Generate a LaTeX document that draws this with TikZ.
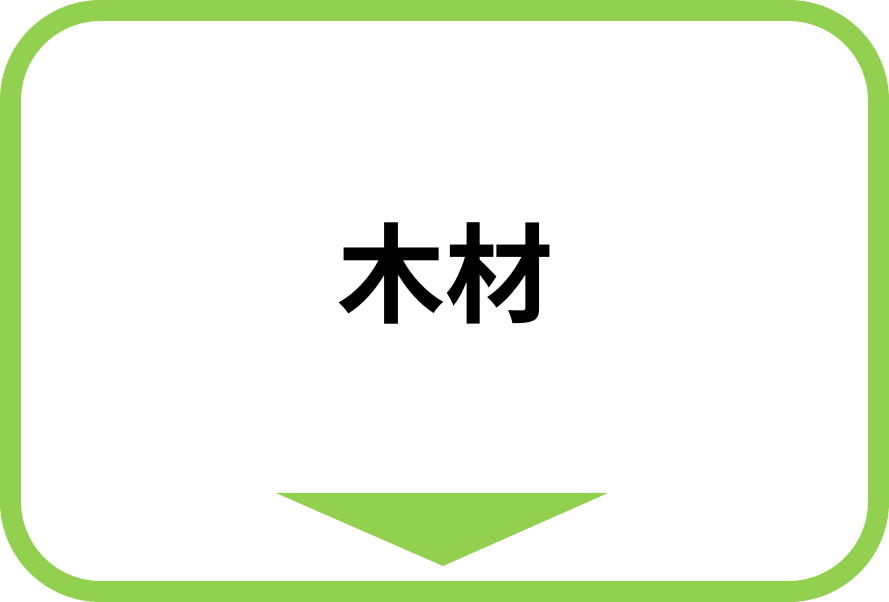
\documentclass[tikz,border=0pt]{standalone}
\usepackage{fontspec}
\newfontfamily\jpfont{Noto Sans CJK JP}[BoldFont={* Bold}]
\usetikzlibrary{positioning}
\definecolor{leafgreen}{HTML}{92D050}

\begin{document}
\begin{tikzpicture}[
            x=1pt, y=1pt,
            panel/.style={ draw=leafgreen, line width=21pt, rounded corners=90pt, minimum width=868pt, minimum height=581pt, inner sep=0pt },
            word/.style={ font=\jpfont\bfseries\fontsize{108}{110}\selectfont, inner sep=0pt }
        ]
        \useasboundingbox (0,0) rectangle (889,602);

        \node[panel] (frame) at (444.5,301) {};
        \node[word] (wood) at (445,329) {木材};

        \coordinate (tipleft) at (276,109);
        \coordinate (tipright) at (608,109);
        \coordinate (tip) at (443,36);
        \fill[leafgreen] (tipleft) -- (tipright) -- (tip) -- cycle;
    \end{tikzpicture}
\end{document}
